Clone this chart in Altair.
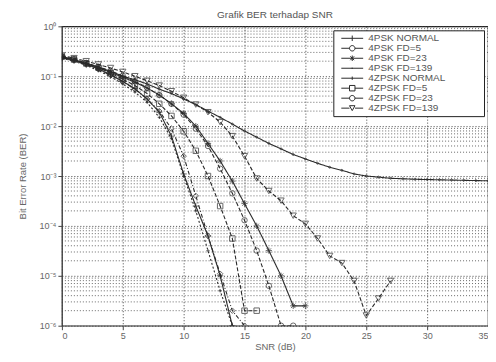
import altair as alt
import pandas as pd

# ---- data ----
series = ["4PSK NORMAL", "4PSK FD=5", "4PSK FD=23", "4PSK FD=139",
          "4ZPSK NORMAL", "4ZPSK FD=5", "4ZPSK FD=23", "4ZPSK FD=139"]

ber_4psk_normal = [0.24, 0.21, 0.175, 0.14, 0.108, 0.079, 0.056, 0.035, 0.019, 0.0063,
                   0.0011, 2.5e-4, 6.3e-5, 1.0e-5, 1.0e-6]
ber_4psk_fd5 = [0.25, 0.22, 0.185, 0.155, 0.128, 0.102, 0.079, 0.059, 0.042, 0.028,
                0.017, 0.0089, 0.004, 0.0014, 4.5e-4, 1.3e-4, 3.2e-5, 6.3e-6, 1e-6, 1e-6]
ber_4psk_fd23 = [0.25, 0.215, 0.18, 0.148, 0.12, 0.095, 0.076, 0.058, 0.042, 0.028,
                 0.018, 0.01, 0.0045, 0.002, 7.9e-4, 2.8e-4, 1e-4, 3.2e-5, 1e-5, 2.5e-6, 2.5e-6]
ber_4psk_fd139 = [0.24, 0.21, 0.18, 0.152, 0.125, 0.10, 0.085, 0.07, 0.055, 0.045,
                  0.035, 0.027, 0.02, 0.015, 0.011, 0.008, 0.006, 0.0045, 0.0035, 0.0027,
                  0.0022, 0.0018, 0.0015, 0.0013, 0.0011, 0.001, 0.00095, 0.0009, 0.00088, 0.00086,
                  0.00085, 0.00084, 0.00083, 0.00082, 0.00081, 0.0008]
ber_4zpsk_normal = [0.23, 0.2, 0.165, 0.13, 0.098, 0.07, 0.048, 0.03, 0.015, 0.0056,
                    0.001, 2e-4, 3.2e-5, 5e-6, 1e-6]
ber_4zpsk_fd5 = [0.245, 0.215, 0.18, 0.148, 0.116, 0.087, 0.065, 0.045, 0.028, 0.016,
                 0.0079, 0.0032, 0.001, 2.5e-4, 5.6e-5, 2e-6, 2e-6]
ber_4zpsk_fd23 = [0.235, 0.205, 0.17, 0.137, 0.105, 0.078, 0.055, 0.035, 0.02, 0.0089,
                  0.0025, 4e-4, 6.3e-5, 1.1e-5, 2e-6, 1e-6]
ber_4zpsk_fd139 = [0.26, 0.23, 0.2, 0.172, 0.146, 0.122, 0.1, 0.081, 0.065, 0.05,
                   0.037, 0.027, 0.019, 0.012, 0.0063, 0.0025, 8.9e-4, 5e-4, 3.2e-4, 1.6e-4,
                   1.1e-4, 5.6e-5, 2.5e-5, 1.8e-5, 7.9e-6, 1.6e-6, 3.5e-6, 7.9e-6]

all_ber = [ber_4psk_normal, ber_4psk_fd5, ber_4psk_fd23, ber_4psk_fd139,
           ber_4zpsk_normal, ber_4zpsk_fd5, ber_4zpsk_fd23, ber_4zpsk_fd139]

x_ticks = [0, 5, 10, 15, 20, 25, 30, 35]
y_ticks = [1e-6, 1e-5, 1e-4, 1e-3, 1e-2, 1e-1, 1]
minor_y = [m * 10.0 ** e for e in range(-6, 0) for m in range(2, 10)]

rows = []
for name, vals in zip(series, all_ber):
    for i, v in enumerate(vals):
        rows.append({"series": name, "entry": name, "snr": i, "ber": v})
df = pd.DataFrame(rows)
minor_df = pd.DataFrame({"v": minor_y})

# plot markers
shapes = [
    "M-1,0L1,0M0,-1L0,1",                                      # +
    "circle",                                                  # o
    "M-1,0L1,0M0,-1L0,1M-0.7,-0.7L0.7,0.7M-0.7,0.7L0.7,-0.7",  # *
    "circle",                                                  # .
    "M-0.6,0L0.6,0M0,-0.6L0,0.6",                              # small +
    "square",
    "diamond",
    "triangle-down",
]
# legend symbols: short line through the marker (MATLAB style), drawn to the right of the anchor
legend_shapes = [
    "M0,0L8,0M4,-1L4,1",
    "M0,0L3,0M5,0L8,0M5,0A1,1,0,1,1,3,0A1,1,0,1,1,5,0",
    "M0,0L8,0M4,-1L4,1M3.3,-0.7L4.7,0.7M3.3,0.7L4.7,-0.7",
    "M0,0L8,0M3.75,0L4.25,0",
    "M0,0L8,0M4,-0.6L4,0.6",
    "M0,0L3,0M5,0L8,0M3,-1L5,-1L5,1L3,1Z",
    "M0,0L3,0M5,0L8,0M5,0A1,1,0,1,1,3,0A1,1,0,1,1,5,0",
    "M0,0L3,0M5,0L8,0M3,-0.9L5,-0.9L4,0.9Z",
]
sizes = [40, 30, 40, 4, 30, 30, 30, 40]
dashes = [[1, 0], [4, 2], [1, 0], [1, 0], [2, 2], [4, 2], [4, 2, 1, 2], [4, 2]]
ink = "#2b2b2b"

xscale = alt.Scale(domain=[0, 35], nice=False, zero=False)
yscale = alt.Scale(type="log", domain=[1e-6, 1], nice=False)

exp_labels = ("['10\u2070','10\u207b\u00b9','10\u207b\u00b2','10\u207b\u00b3',"
              "'10\u207b\u2074','10\u207b\u2075','10\u207b\u2076'][-round(log(datum.value)/LN10)]")

x_axis = alt.Axis(values=x_ticks, title="SNR (dB)", grid=True, gridDash=[1, 2],
                  gridColor="#444", gridOpacity=1)
y_axis = alt.Axis(values=y_ticks, title="Bit Error Rate (BER)", grid=True, gridDash=[1, 2],
                  gridColor="#444", gridOpacity=1, labelExpr=exp_labels)

pad = "\u2800" * 5
legend = alt.Legend(title=None, orient="top-right", offset=4,
                    strokeColor="#222", fillColor="white", padding=3,
                    labelFontSize=10, labelColor="#555", rowPadding=-4.5,
                    symbolStrokeColor=ink, symbolStrokeWidth=1, symbolOpacity=1,
                    labelOffset=22, symbolFillColor="transparent", symbolSize=30,
                    labelExpr="datum.label + '" + pad + "'",
                    labelFont="Liberation Sans")

minor = alt.Chart(minor_df).mark_rule(color="#444", strokeWidth=0.8, strokeDash=[1, 2]).encode(
    y=alt.Y("v:Q", scale=yscale, axis=y_axis),
)

layers = [minor]
for name, dash in zip(series, dashes):
    sub = df[df["series"] == name]
    layers.append(
        alt.Chart(sub).mark_line(strokeWidth=1.1, clip=True, color=ink, strokeDash=dash).encode(
            x=alt.X("snr:Q", scale=xscale, axis=x_axis),
            y=alt.Y("ber:Q", scale=yscale, axis=y_axis),
        )
    )
for name, size, shp in zip(series, sizes, shapes):
    sub = df[df["series"] == name]
    layers.append(
        alt.Chart(sub).mark_point(filled=False, strokeWidth=1, color=ink, size=size,
                                  shape=shp, clip=True).encode(
            x=alt.X("snr:Q", scale=xscale, axis=x_axis),
            y=alt.Y("ber:Q", scale=yscale, axis=y_axis),
        )
    )
# invisible layer that carries the legend
layers.append(
    alt.Chart(df).mark_point(filled=False, opacity=0, color=ink, clip=True).encode(
        x=alt.X("snr:Q", scale=xscale, axis=x_axis),
        y=alt.Y("ber:Q", scale=yscale, axis=y_axis),
        shape=alt.Shape("entry:N", scale=alt.Scale(domain=series, range=legend_shapes),
                        legend=legend),
    )
)

chart = alt.layer(*layers).properties(
    width=427, height=300,
    title=alt.TitleParams("Grafik BER terhadap SNR", fontSize=10, font="Liberation Sans",
                          fontWeight="normal", color="#555", offset=2),
    autosize=alt.AutoSizeParams(type="none"),
    padding={"left": 54, "top": 18, "right": 0, "bottom": 28},
).configure_view(stroke="#222", strokeWidth=1.2).configure_axis(
    labelFont="Liberation Sans", titleFont="Liberation Sans", labelFontSize=9,
    titleFontSize=9.5, titleFontWeight="normal", labelColor="#666", titleColor="#666",
    domain=False, ticks=True, tickColor="#444", tickSize=4,
).configure_axisX(labelPadding=2, titlePadding=1).configure_axisY(titlePadding=12)

chart.save("out.html", embed_options={"renderer": "svg", "actions": False})
